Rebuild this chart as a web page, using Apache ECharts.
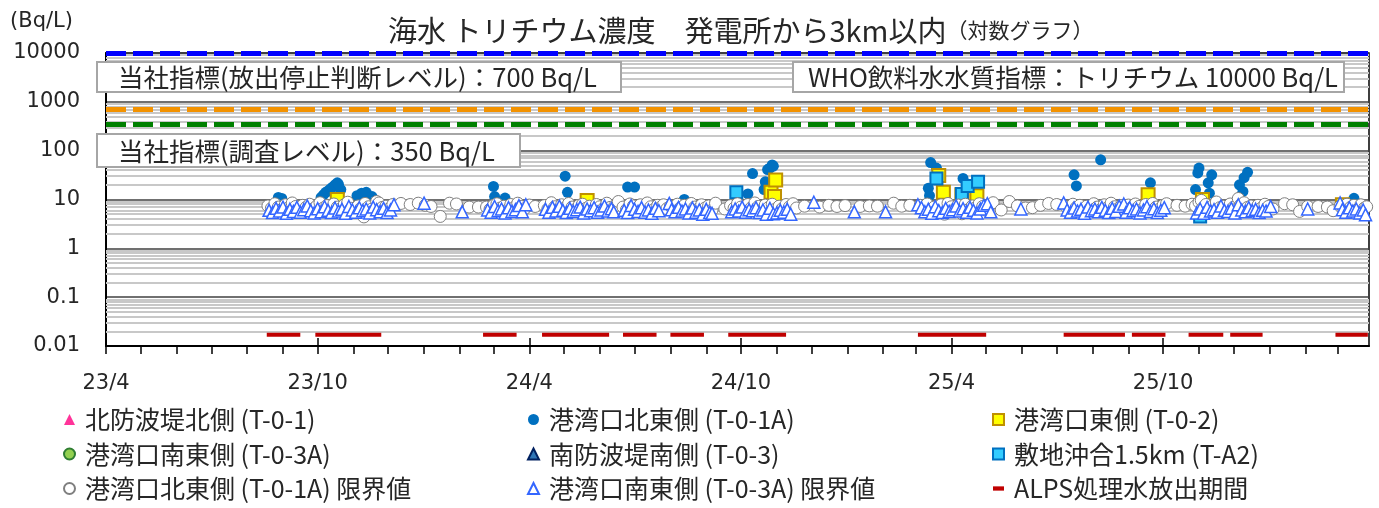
<!DOCTYPE html>
<html>
<head>
<meta charset="utf-8">
<script src="https://cdn.jsdelivr.net/npm/echarts@6/dist/echarts.min.js"></script>
<style>
  html, body { margin: 0; padding: 0; background: #fff; }
  #chart { width: 1379px; height: 508px; }
</style>
</head>
<body>
<div id="chart"></div>
<script>
// 海水 トリチウム濃度 (Bq/L)  [date, value]
const northBreakwater = [ // 北防波堤北側 (T-0-1)
  ['2025-11-12', 5.5]
];
const portNE = [ // 港湾口北東側 (T-0-1A)
  ['2023-08-28', 11], ['2023-08-31', 10.5],
  ['2023-10-04', 11], ['2023-10-06', 12.5], ['2023-10-08', 14], ['2023-10-10', 15], ['2023-10-12', 16.5],
  ['2023-10-14', 18], ['2023-10-16', 20], ['2023-10-18', 22], ['2023-10-19', 20.5], ['2023-10-21', 16],
  ['2023-11-04', 12], ['2023-11-08', 13.5], ['2023-11-12', 14], ['2023-11-17', 11.5],
  ['2024-03-01', 18.5], ['2024-03-02', 11.5], ['2024-03-11', 10.7],
  ['2024-05-02', 30], ['2024-05-04', 14],
  ['2024-06-25', 18], ['2024-07-01', 18],
  ['2024-08-13', 10],
  ['2024-10-07', 13], ['2024-10-11', 34], ['2024-10-21', 16], ['2024-10-22', 23], ['2024-10-24', 41],
  ['2024-10-26', 44], ['2024-10-28', 51], ['2024-10-29', 48],
  ['2025-03-12', 17], ['2025-03-13', 12], ['2025-03-14', 57], ['2025-03-19', 44], ['2025-04-11', 27],
  ['2025-07-16', 32], ['2025-07-18', 19], ['2025-08-08', 65],
  ['2025-09-20', 22],
  ['2025-10-29', 16], ['2025-10-31', 35], ['2025-11-01', 44], ['2025-11-09', 22], ['2025-11-10', 13.5], ['2025-11-12', 32],
  ['2025-12-06', 20], ['2025-12-09', 14.6], ['2025-12-10', 28], ['2025-12-13', 36],
  ['2026-03-15', 10.6]
];
const portE = [ // 港湾口東側 (T-0-2)
  ['2023-10-18', 10], ['2024-05-21', 9.5], ['2024-10-27', 14], ['2024-10-30', 11.5], ['2024-10-31', 25],
  ['2025-03-21', 31], ['2025-03-25', 14], ['2025-04-10', 12.5], ['2025-04-23', 12],
  ['2025-09-18', 12.5], ['2025-11-04', 10], ['2026-03-05', 7.8]
];
const portSE = []; // 港湾口南東側 (T-0-3A)
const southBreakwater = []; // 南防波堤南側 (T-0-3)
const offshore = [ // 敷地沖合1.5km (T-A2)
  ['2024-09-27', 14], ['2025-03-19', 27], ['2025-04-10', 13], ['2025-04-15', 19], ['2025-04-24', 23],
  ['2025-11-02', 4.5]
];
const portNELimit = [ // 港湾口北東側 (T-0-1A) 限界値
  ['2023-08-19', 7.4], ['2023-08-22', 6.6], ['2023-08-25', 8.2], ['2023-08-28', 7.0], ['2023-08-31', 6.3],
  ['2023-09-03', 7.8], ['2023-09-06', 6.8], ['2023-09-09', 8.5], ['2023-09-12', 7.2], ['2023-09-15', 6.1],
  ['2023-09-18', 7.6], ['2023-09-21', 6.9], ['2023-09-24', 8.0], ['2023-09-27', 6.4], ['2023-09-30', 7.3],
  ['2023-10-03', 8.6], ['2023-10-06', 6.7], ['2023-10-09', 7.5], ['2023-10-12', 6.2], ['2023-10-15', 8.1],
  ['2023-10-18', 7.0], ['2023-10-21', 6.5], ['2023-10-24', 7.8], ['2023-10-27', 8.8], ['2023-10-30', 6.6],
  ['2023-11-02', 5.6], ['2023-11-05', 7.4], ['2023-11-08', 6.8], ['2023-11-10', 4.4], ['2023-11-11', 8.3],
  ['2023-11-14', 7.1], ['2023-11-17', 6.4], ['2023-11-21', 9.1], ['2023-11-23', 8.5], ['2023-11-26', 6.9],
  ['2023-11-29', 7.3], ['2023-12-02', 6.5], ['2023-12-05', 7.9],
  ['2023-12-12', 8.3], ['2023-12-20', 7.9], ['2023-12-27', 8.4], ['2024-01-02', 7.6], ['2024-01-07', 7.2],
  ['2024-01-15', 4.5], ['2024-01-23', 8.4], ['2024-01-29', 8.1], ['2024-02-09', 7.0], ['2024-02-17', 7.0],
  ['2024-02-24', 7.0], ['2024-02-27', 6.3], ['2024-03-01', 7.6], ['2024-03-04', 8.2], ['2024-03-07', 6.7],
  ['2024-03-10', 7.3], ['2024-03-13', 6.1], ['2024-03-16', 7.9], ['2024-03-19', 6.9], ['2024-03-22', 8.4],
  ['2024-03-25', 7.2], ['2024-03-28', 6.5], ['2024-04-01', 7.7], ['2024-04-06', 7.2],
  ['2024-04-14', 7.5], ['2024-04-17', 6.4], ['2024-04-20', 8.6], ['2024-04-23', 7.1], ['2024-04-26', 6.2],
  ['2024-04-29', 7.8], ['2024-05-02', 6.8], ['2024-05-05', 8.3], ['2024-05-08', 7.0], ['2024-05-11', 6.3],
  ['2024-05-14', 7.6], ['2024-05-17', 8.0], ['2024-05-20', 6.6], ['2024-05-23', 7.3], ['2024-05-26', 6.0],
  ['2024-05-29', 7.9], ['2024-06-01', 7.1], ['2024-06-04', 6.5], ['2024-06-07', 8.4], ['2024-06-10', 6.9],
  ['2024-06-14', 7.4], ['2024-06-17', 9.1],
  ['2024-06-21', 7.0], ['2024-06-24', 6.2], ['2024-06-27', 8.1], ['2024-06-30', 7.4], ['2024-07-03', 6.6],
  ['2024-07-06', 7.8], ['2024-07-09', 6.4], ['2024-07-12', 8.5], ['2024-07-15', 7.1], ['2024-07-18', 6.3],
  ['2024-07-21', 7.6], ['2024-07-23', 6.8], ['2024-07-26', 7.8], ['2024-07-29', 6.5],
  ['2024-08-01', 7.3], ['2024-08-04', 6.5], ['2024-08-07', 8.0], ['2024-08-10', 6.9], ['2024-08-13', 7.6],
  ['2024-08-16', 6.2], ['2024-08-19', 8.3], ['2024-08-22', 7.0], ['2024-08-25', 6.4], ['2024-08-28', 7.8],
  ['2024-08-31', 6.7], ['2024-09-03', 7.4], ['2024-09-06', 6.1], ['2024-09-09', 8.4], ['2024-09-17', 6.4],
  ['2024-09-22', 7.5], ['2024-09-25', 6.6], ['2024-09-28', 8.2], ['2024-10-01', 7.0], ['2024-10-04', 6.3],
  ['2024-10-07', 7.9], ['2024-10-10', 6.8], ['2024-10-13', 8.5], ['2024-10-16', 7.2], ['2024-10-19', 6.1],
  ['2024-10-22', 7.7], ['2024-10-25', 6.9], ['2024-10-28', 8.0], ['2024-10-31', 6.4], ['2024-11-03', 7.3],
  ['2024-11-06', 6.6], ['2024-11-09', 7.9], ['2024-11-12', 7.1], ['2024-11-15', 8.2],
  ['2024-11-18', 6.7], ['2024-11-25', 7.3], ['2024-12-08', 7.0], ['2024-12-16', 7.6], ['2024-12-23', 7.2],
  ['2024-12-30', 7.5], ['2025-01-12', 7.2], ['2025-01-20', 7.4], ['2025-01-27', 7.3], ['2025-02-10', 8.4],
  ['2025-02-17', 7.3], ['2025-02-24', 7.6],
  ['2025-03-05', 7.6], ['2025-03-08', 6.5], ['2025-03-11', 8.1], ['2025-03-14', 5.6], ['2025-03-17', 7.0],
  ['2025-03-20', 6.2], ['2025-03-23', 7.8], ['2025-03-26', 5.0], ['2025-03-29', 8.3], ['2025-04-01', 7.1],
  ['2025-04-04', 6.4], ['2025-04-07', 7.7], ['2025-04-10', 5.1], ['2025-04-13', 8.0], ['2025-04-16', 6.3],
  ['2025-04-19', 7.4], ['2025-04-22', 6.8], ['2025-04-25', 8.2], ['2025-04-28', 7.2], ['2025-05-01', 6.0],
  ['2025-05-04', 7.5], ['2025-05-07', 8.6],
  ['2025-05-14', 6.1], ['2025-05-21', 9.1], ['2025-05-28', 7.4], ['2025-06-04', 6.7], ['2025-06-10', 6.8],
  ['2025-06-17', 7.6], ['2025-06-24', 8.3], ['2025-07-01', 7.9],
  ['2025-07-09', 7.2], ['2025-07-12', 6.4], ['2025-07-15', 8.0], ['2025-07-18', 6.9], ['2025-07-21', 7.6],
  ['2025-07-24', 5.4], ['2025-07-27', 7.3], ['2025-07-30', 6.6], ['2025-08-02', 8.2], ['2025-08-05', 7.0],
  ['2025-08-08', 6.2], ['2025-08-11', 7.8], ['2025-08-14', 6.8], ['2025-08-17', 8.4], ['2025-08-20', 7.1],
  ['2025-08-23', 6.5], ['2025-08-26', 7.5], ['2025-08-29', 5.9], ['2025-09-01', 7.7], ['2025-09-04', 6.9],
  ['2025-09-07', 8.1], ['2025-09-10', 7.2], ['2025-09-13', 6.3], ['2025-09-16', 7.9], ['2025-09-19', 6.7],
  ['2025-09-22', 8.3], ['2025-09-25', 7.0], ['2025-09-28', 6.4], ['2025-10-01', 7.6], ['2025-10-04', 8.2],
  ['2025-10-13', 7.6], ['2025-10-20', 7.3], ['2025-10-26', 8.0],
  ['2025-10-29', 7.4], ['2025-11-01', 8.8], ['2025-11-03', 9.6], ['2025-11-04', 6.6], ['2025-11-07', 7.9],
  ['2025-11-10', 6.2], ['2025-11-13', 7.5], ['2025-11-16', 8.9], ['2025-11-19', 6.8], ['2025-11-22', 7.3],
  ['2025-11-25', 6.1], ['2025-11-28', 8.1], ['2025-12-01', 7.0], ['2025-12-04', 6.5], ['2025-12-05', 10.5],
  ['2025-12-07', 7.8], ['2025-12-10', 8.6], ['2025-12-13', 6.9], ['2025-12-16', 7.4], ['2025-12-19', 5.8],
  ['2025-12-22', 7.6], ['2025-12-25', 6.7], ['2025-12-28', 8.0], ['2025-12-31', 7.2], ['2026-01-04', 6.4],
  ['2026-01-14', 8.2], ['2026-01-21', 7.8], ['2026-01-27', 5.7], ['2026-02-03', 7.2], ['2026-02-12', 7.2],
  ['2026-02-20', 7.0], ['2026-02-25', 5.9],
  ['2026-03-03', 7.3], ['2026-03-06', 6.5], ['2026-03-09', 8.0], ['2026-03-12', 6.9], ['2026-03-15', 7.6],
  ['2026-03-18', 6.2], ['2026-03-21', 7.8], ['2026-03-24', 6.7], ['2026-03-26', 7.1]
];
const portSELimit = [ // 港湾口南東側 (T-0-3A) 限界値
  ['2023-08-20', 6.0], ['2023-08-23', 5.4], ['2023-08-26', 6.6], ['2023-08-29', 5.8], ['2023-09-01', 7.0],
  ['2023-09-04', 5.2], ['2023-09-07', 6.3], ['2023-09-10', 5.7], ['2023-09-13', 6.9], ['2023-09-16', 5.5],
  ['2023-09-19', 6.2], ['2023-09-22', 7.4], ['2023-09-25', 5.9], ['2023-09-28', 5.3], ['2023-10-01', 6.5],
  ['2023-10-04', 5.6], ['2023-10-07', 7.1], ['2023-10-10', 6.0], ['2023-10-13', 5.4], ['2023-10-16', 6.7],
  ['2023-10-19', 5.8], ['2023-10-22', 6.3], ['2023-10-25', 5.2], ['2023-10-28', 7.2], ['2023-10-31', 6.1],
  ['2023-11-03', 5.5], ['2023-11-06', 6.8], ['2023-11-09', 5.9], ['2023-11-12', 6.4], ['2023-11-15', 5.3],
  ['2023-11-18', 7.0], ['2023-11-21', 6.2], ['2023-11-24', 5.6], ['2023-11-27', 6.6], ['2023-11-30', 5.4],
  ['2023-12-03', 6.1], ['2023-12-06', 7.8],
  ['2024-01-01', 8.4], ['2024-02-03', 5.6],
  ['2024-02-25', 6.1], ['2024-02-28', 5.5], ['2024-03-02', 7.2], ['2024-03-05', 5.9], ['2024-03-08', 6.4],
  ['2024-03-11', 5.3], ['2024-03-14', 6.8], ['2024-03-17', 5.7], ['2024-03-20', 6.2], ['2024-03-23', 7.5],
  ['2024-03-26', 5.6], ['2024-03-29', 7.8],
  ['2024-04-15', 6.3], ['2024-04-18', 5.5], ['2024-04-21', 6.9], ['2024-04-24', 5.8], ['2024-04-27', 7.3],
  ['2024-04-30', 6.0], ['2024-05-03', 5.4], ['2024-05-06', 6.6], ['2024-05-09', 5.7], ['2024-05-12', 6.2],
  ['2024-05-15', 7.0], ['2024-05-18', 5.3], ['2024-05-21', 6.4], ['2024-05-24', 5.9], ['2024-05-27', 6.8],
  ['2024-05-30', 5.5], ['2024-06-02', 6.1], ['2024-06-05', 7.4], ['2024-06-08', 5.8], ['2024-06-11', 6.5],
  ['2024-06-13', 5.6],
  ['2024-06-22', 6.0], ['2024-06-25', 5.4], ['2024-06-28', 7.5], ['2024-07-01', 6.3], ['2024-07-04', 5.7],
  ['2024-07-07', 6.8], ['2024-07-10', 5.5], ['2024-07-13', 6.1], ['2024-07-16', 5.2], ['2024-07-19', 6.6],
  ['2024-07-22', 5.9], ['2024-07-31', 8.3],
  ['2024-08-02', 6.2], ['2024-08-05', 5.6], ['2024-08-08', 6.9], ['2024-08-11', 5.8], ['2024-08-14', 6.4],
  ['2024-08-17', 5.3], ['2024-08-20', 6.7], ['2024-08-23', 5.5], ['2024-08-26', 6.1], ['2024-08-29', 5.0],
  ['2024-09-01', 6.3], ['2024-09-04', 5.4], ['2024-09-06', 5.2],
  ['2024-09-23', 5.6], ['2024-09-26', 6.4], ['2024-09-29', 5.8], ['2024-10-02', 7.0], ['2024-10-05', 5.5],
  ['2024-10-08', 6.2], ['2024-10-11', 5.9], ['2024-10-14', 6.8], ['2024-10-17', 5.4], ['2024-10-20', 6.1],
  ['2024-10-23', 5.0], ['2024-10-26', 6.6], ['2024-10-29', 5.1], ['2024-11-01', 5.3], ['2024-11-04', 6.0],
  ['2024-11-07', 5.5], ['2024-11-10', 6.3], ['2024-11-13', 5.0],
  ['2024-12-03', 8.8], ['2025-01-07', 5.6], ['2025-02-03', 5.6], ['2025-03-03', 7.8],
  ['2025-03-06', 6.8], ['2025-03-09', 5.6], ['2025-03-12', 6.3], ['2025-03-15', 5.2], ['2025-03-18', 7.1],
  ['2025-03-21', 5.9], ['2025-03-24', 5.4], ['2025-03-27', 6.6], ['2025-03-30', 5.7], ['2025-04-02', 6.2],
  ['2025-04-05', 7.4], ['2025-04-08', 5.8], ['2025-04-11', 6.5], ['2025-04-14', 5.5], ['2025-04-17', 6.9],
  ['2025-04-20', 6.0], ['2025-04-23', 5.3], ['2025-04-26', 6.4], ['2025-04-29', 7.6], ['2025-05-02', 8.2],
  ['2025-05-05', 5.6],
  ['2025-05-31', 6.4], ['2025-07-07', 8.5],
  ['2025-07-10', 6.1], ['2025-07-13', 5.5], ['2025-07-16', 6.7], ['2025-07-19', 5.8], ['2025-07-22', 6.3],
  ['2025-07-25', 5.2], ['2025-07-28', 7.0], ['2025-07-31', 5.9], ['2025-08-03', 6.4], ['2025-08-06', 5.6],
  ['2025-08-09', 6.9], ['2025-08-12', 6.0], ['2025-08-15', 5.4], ['2025-08-18', 6.6], ['2025-08-21', 5.7],
  ['2025-08-24', 7.3], ['2025-08-28', 8.1], ['2025-08-30', 5.5], ['2025-09-02', 6.8], ['2025-09-05', 5.9],
  ['2025-09-08', 6.4], ['2025-09-11', 5.3], ['2025-09-14', 6.1], ['2025-09-17', 7.1], ['2025-09-20', 5.7],
  ['2025-09-23', 6.5], ['2025-09-26', 5.4], ['2025-09-29', 6.0], ['2025-10-02', 6.8],
  ['2025-10-30', 5.3], ['2025-11-02', 6.4], ['2025-11-05', 5.2], ['2025-11-08', 6.9], ['2025-11-11', 5.8],
  ['2025-11-14', 6.2], ['2025-11-17', 5.5], ['2025-11-20', 7.4], ['2025-11-23', 6.0], ['2025-11-26', 5.7],
  ['2025-11-29', 6.6], ['2025-12-02', 5.3], ['2025-12-05', 7.8], ['2025-12-08', 6.1], ['2025-12-11', 5.6],
  ['2025-12-14', 6.8], ['2025-12-17', 5.9], ['2025-12-20', 6.3], ['2025-12-23', 5.4], ['2025-12-26', 6.0],
  ['2025-12-29', 5.8], ['2026-01-02', 7.2],
  ['2026-02-03', 6.4], ['2026-03-03', 8.5],
  ['2026-03-05', 6.2], ['2026-03-08', 5.5], ['2026-03-11', 6.8], ['2026-03-14', 5.8], ['2026-03-17', 6.4],
  ['2026-03-20', 5.3], ['2026-03-23', 6.1], ['2026-03-25', 4.9]
];
// ALPS処理水放出期間 [start, end]
const alpsPeriods = [
  ['2023-08-18', '2023-09-16'], ['2023-09-29', '2023-11-25'], ['2024-02-21', '2024-03-21'],
  ['2024-04-12', '2024-06-09'], ['2024-06-21', '2024-07-20'], ['2024-08-01', '2024-08-30'],
  ['2024-09-20', '2024-11-09'], ['2025-03-03', '2025-05-01'], ['2025-07-07', '2025-08-29'],
  ['2025-09-04', '2025-10-03'], ['2025-10-23', '2025-11-22'], ['2025-11-28', '2025-12-26'],
  ['2026-02-27', '2026-03-27']
];
const alpsLevel = 0.017;
// 基準線
const thresholdValues = [10000, 700, 350];
const thresholdColors = ['#0000FF', '#F39200', '#008000'];
// 軸
const xStart = '2023-04-01';
const xEnd = '2026-03-28';
const xLabelDates = ['2023-04-01', '2023-10-01', '2024-04-01', '2024-10-01', '2025-04-01', '2025-10-01'];
const gridDecades = [0.01, 0.1, 1, 10, 100, 1000];
const minorSteps = [2, 3, 4, 5, 6, 7, 8, 9];

const FONT_JP = '"Noto Sans CJK JP", sans-serif';
const FONT_NUM = '"DejaVu Sans", sans-serif';
const TXT = '#262626';

function toTime(s) {
  const p = s.split('-').map(Number);
  return new Date(p[0], p[1] - 1, p[2]).getTime();
}
function toPoints(list) {
  return list.map(function (d) { return [toTime(d[0]), d[1]]; });
}

// 毎月の目盛
const monthTicks = [];
for (let d = new Date(2023, 3, 1); d.getTime() <= toTime(xEnd); d.setMonth(d.getMonth() + 1)) {
  monthTicks.push(d.getTime());
}
const labelTicks = xLabelDates.map(toTime);

const minorGrid = [];
gridDecades.forEach(function (d) {
  minorSteps.forEach(function (m) { minorGrid.push(+(d * m).toPrecision(3)); });
});

const alpsData = [];
alpsPeriods.forEach(function (p) {
  alpsData.push([toTime(p[0]), alpsLevel], [toTime(p[1]), alpsLevel], [toTime(p[1]), '-']);
});

function scatter(name, data, symbol, size, fill, border, bw) {
  return {
    name: name, type: 'scatter', data: toPoints(data), symbol: symbol, symbolSize: size,
    itemStyle: { color: fill, borderColor: border || fill, borderWidth: bw || 0, opacity: 1 },
    emphasis: { disabled: true }
  };
}

const chart = echarts.init(document.getElementById('chart'));

const legendBase = {
  orient: 'vertical', top: 407, height: 110, padding: 0, itemWidth: 11, itemHeight: 11, itemGap: 9.5,
  selectedMode: false,
  textStyle: { fontFamily: FONT_JP, fontSize: 25, lineHeight: 25, color: TXT, padding: [0, 0, 0, 5] }
};

const option = {
  animation: false,
  backgroundColor: '#fff',
  title: {
    text: '{a|海水 トリチウム濃度　発電所から3km以内}{b|（対数グラフ）}',
    left: 383, top: 11,
    textStyle: {
      rich: {
        a: { fontFamily: FONT_JP, fontSize: 29, fontWeight: 'normal', color: TXT },
        b: { fontFamily: FONT_JP, fontSize: 21, fontWeight: 'normal', color: TXT }
      }
    }
  },
  grid: { left: 106, right: 10, top: 53, bottom: 162, show: true, borderColor: '#000', borderWidth: 1.5, backgroundColor: 'transparent' },
  legend: [
    Object.assign({}, legendBase, { left: 63, data: ['北防波堤北側 (T-0-1)', '港湾口南東側 (T-0-3A)', '港湾口北東側 (T-0-1A) 限界値'] }),
    Object.assign({}, legendBase, { left: 527, data: ['港湾口北東側 (T-0-1A)', '南防波堤南側 (T-0-3)', '港湾口南東側 (T-0-3A) 限界値'] }),
    Object.assign({}, legendBase, { left: 992, data: ['港湾口東側 (T-0-2)', '敷地沖合1.5km (T-A2)',
      { name: 'ALPS処理水放出期間', icon: 'path://M0,0h36v14h-36z', itemStyle: { color: '#C00000', borderWidth: 0 } }] })
  ],
  xAxis: [{
    type: 'value', min: toTime(xStart), max: toTime(xEnd),
    axisLine: { lineStyle: { color: '#000', width: 2 } },
    axisTick: { show: true, customValues: monthTicks, length: 8, lineStyle: { color: '#000', width: 1.5 } },
    axisLabel: {
      customValues: labelTicks, margin: 27, fontFamily: FONT_NUM, fontSize: 21, color: TXT,
      formatter: function (v) {
        const d = new Date(v);
        return String(d.getFullYear()).slice(2) + '/' + (d.getMonth() + 1);
      }
    },
    splitLine: { show: false }
  }, {
    type: 'value', min: toTime(xStart), max: toTime(xEnd), position: 'bottom',
    axisLine: { show: false },
    axisTick: { show: true, inside: true, customValues: labelTicks, length: 8, lineStyle: { color: '#000', width: 1.5 } },
    axisLabel: { show: false },
    splitLine: { show: false }
  }],
  yAxis: {
    type: 'log', logBase: 10, min: 0.01, max: 10000, splitNumber: 6,
    axisLine: { show: true, lineStyle: { color: '#000', width: 2 } },
    axisTick: { show: false },
    axisLabel: { margin: 26, fontFamily: FONT_NUM, fontSize: 21, color: TXT, formatter: function (v) { return String(v); } },
    splitLine: { show: true, lineStyle: { color: '#404040', width: 1.5 } },
    name: '(Bq/L)', nameLocation: 'end', nameGap: 21,
    nameTextStyle: { fontFamily: FONT_NUM, fontSize: 21, color: TXT, align: 'right', padding: [0, 33, 0, 0] }
  },
  series: [
    {
      name: 'minor-grid', type: 'line', data: [], silent: true,
      markLine: {
        z: 1, silent: true, symbol: 'none', label: { show: false }, emphasis: { disabled: true },
        lineStyle: { type: 'solid', color: '#C8C8C8', width: 2 },
        data: minorGrid.map(function (v) { return { yAxis: v }; })
      }
    },
    scatter('北防波堤北側 (T-0-1)', northBreakwater, 'triangle', 10, '#FF3399'),
    scatter('港湾口北東側 (T-0-1A)', portNE, 'circle', 11, '#0070C0'),
    scatter('港湾口東側 (T-0-2)', portE, 'rect', 13, '#FFFF00', '#BF9000', 2),
    scatter('港湾口南東側 (T-0-3A)', portSE, 'circle', 11, '#92D050', '#2E7D32', 2),
    scatter('南防波堤南側 (T-0-3)', southBreakwater, 'triangle', 11, '#2E75B6', '#002060', 2),
    scatter('敷地沖合1.5km (T-A2)', offshore, 'rect', 12, '#33CCFF', '#0070C0', 2),
    scatter('港湾口北東側 (T-0-1A) 限界値', portNELimit, 'circle', 12, '#FFFFFF', '#7F7F7F', 1),
    scatter('港湾口南東側 (T-0-3A) 限界値', portSELimit, 'triangle', 12, '#FFFFFF', '#3366FF', 1.5),
    {
      name: 'ALPS処理水放出期間', type: 'line', data: alpsData, symbol: 'none', connectNulls: false,
      color: '#C00000', lineStyle: { color: '#C00000', width: 4 }, emphasis: { disabled: true }
    },
    {
      name: 'thresholds', type: 'line', data: [], silent: true,
      markLine: {
        z: 3, silent: true, symbol: 'none', label: { show: false }, emphasis: { disabled: true },
        lineStyle: { type: [20, 7], width: 5 },
        data: thresholdValues.map(function (v, i) {
          return { yAxis: v, lineStyle: { color: thresholdColors[i], type: [20, 7], width: 5 } };
        })
      }
    }
  ],
  graphic: [
    { type: 'rect', z: 100, shape: { x: 97, y: 62, width: 524, height: 30 }, style: { fill: '#fff', stroke: '#A6A6A6', lineWidth: 2 } },
    { type: 'text', z: 101, x: 118, y: 77, style: { text: '当社指標(放出停止判断レベル)：700 Bq/L', font: '25.5px ' + FONT_JP, fill: TXT, verticalAlign: 'middle' } },
    { type: 'rect', z: 100, shape: { x: 793, y: 62, width: 551, height: 30 }, style: { fill: '#fff', stroke: '#A6A6A6', lineWidth: 2 } },
    { type: 'text', z: 101, x: 808, y: 77, style: { text: 'WHO飲料水水質指標：トリチウム 10000 Bq/L', font: '25.5px ' + FONT_JP, fill: TXT, verticalAlign: 'middle' } },
    { type: 'rect', z: 100, shape: { x: 97, y: 134, width: 423, height: 33 }, style: { fill: '#fff', stroke: '#A6A6A6', lineWidth: 2 } },
    { type: 'text', z: 101, x: 118, y: 151, style: { text: '当社指標(調査レベル)：350 Bq/L', font: '25.5px ' + FONT_JP, fill: TXT, verticalAlign: 'middle' } }
  ]
};

chart.setOption(option);
</script>
</body>
</html>
